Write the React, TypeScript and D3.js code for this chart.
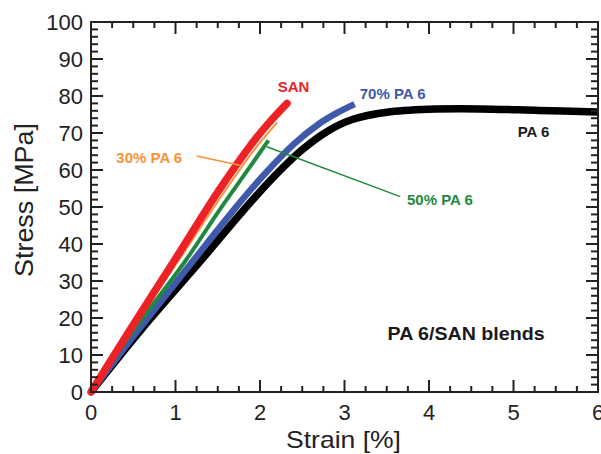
import * as d3 from "d3";

// strain [%], stress [MPa]
const strainTicks = [0, 1, 2, 3, 4, 5, 6];
const stressTicks = [0, 10, 20, 30, 40, 50, 60, 70, 80, 90, 100];

const pa6 = [[0, 0], [0.6, 17], [1.3, 35.5], [1.8, 49], [2.2, 59], [2.5, 65.5], [2.8, 70.5], [3.1, 73.7], [3.5, 75.6], [4, 76.4], [4.6, 76.5], [5.3, 76.1], [6, 75.7]];
const pa70 = [[0, 0], [0.5, 15], [1.2, 35.2], [1.7, 49.5], [2.05, 58.8], [2.4, 67], [2.7, 72.5], [2.9, 75.3], [3.12, 77.8]];
const pa50 = [[0, 0], [0.5, 16.5], [1.11, 35.2], [1.5, 48.5], [1.87, 60.5], [2.1, 68]];
const pa30 = [[0, 0], [0.5, 17.5], [1.05, 36], [1.5, 51.5], [1.9, 64.5], [2.2, 72.8]];
const san = [[0, 0], [0.5, 18.2], [1.0, 36], [1.5, 54], [1.9, 67], [2.1, 72.6], [2.32, 78]];

const series = [
  { name: "PA 6", data: pa6, color: "#000000", width: 7.5, cap: "butt" },
  { name: "70% PA 6", data: pa70, color: "#3f5aab", width: 6.5, cap: "butt" },
  { name: "50% PA 6", data: pa50, color: "#1f8a3f", width: 4, cap: "butt" },
  { name: "30% PA 6", data: pa30, color: "#f7923a", width: 2, cap: "butt" },
  { name: "SAN", data: san, color: "#ec2227", width: 7.5, cap: "round" },
];

const labels = [
  { text: "SAN", x: 2.21, y: 81.2, color: "#ec2227" },
  { text: "70% PA 6", x: 3.18, y: 79.2, color: "#3f5aab" },
  { text: "PA 6", x: 5.05, y: 69, color: "#1a1a1a" },
  { text: "30% PA 6", x: 0.3, y: 61.9, color: "#f7923a" },
  { text: "50% PA 6", x: 3.74, y: 50.5, color: "#1f8a3f" },
];

const leaders = [
  { from: [1.25, 63.8], to: [1.76, 61.3], color: "#f7923a" },
  { from: [2.08, 66.3], to: [3.66, 52.8], color: "#1f8a3f" },
];

const W = 601;
const H = 454;
const margin = { top: 22, right: 3, bottom: 62, left: 91 };
const font = "'Liberation Sans', Arial, sans-serif";

export default function App() {
  const x = d3.scaleLinear().domain([0, 6]).range([margin.left, W - margin.right]);
  const y = d3.scaleLinear().domain([0, 100]).range([H - margin.bottom, margin.top]);

  const line = d3
    .line<number[]>()
    .x((d) => x(d[0]))
    .y((d) => y(d[1]))
    .curve(d3.curveCatmullRom.alpha(0.5));

  const xMinor = d3.range(0, 6.001, 0.25);
  const yMinor = d3.range(0, 100.1, 2);
  const x0 = x(0), x1 = x(6), y0 = y(0), y1 = y(100);
  const axisColor = "#222";

  return (
    <svg width={W} height={H} style={{ position: "absolute", left: 0, top: 0, background: "#fff" }}>
      {/* curves */}
      {series.map((s) => (
        <path key={s.name} d={line(s.data) || ""} fill="none" stroke={s.color}
          strokeWidth={s.width} strokeLinecap={s.cap as any} strokeLinejoin="round" />
      ))}

      {/* leader lines */}
      {leaders.map((l, i) => (
        <line key={i} x1={x(l.from[0])} y1={y(l.from[1])} x2={x(l.to[0])} y2={y(l.to[1])}
          stroke={l.color} strokeWidth={1.5} />
      ))}

      {/* frame + ticks */}
      <g stroke={axisColor} strokeWidth={2}>
        <rect x={x0} y={y1} width={x1 - x0} height={y0 - y1} fill="none" />
        {xMinor.map((v) => {
          const major = Math.abs(v - Math.round(v)) < 1e-6;
          const len = major ? 12 : 6;
          return (
            <g key={"x" + v}>
              <line x1={x(v)} x2={x(v)} y1={y0} y2={y0 - len} />
              <line x1={x(v)} x2={x(v)} y1={y1} y2={y1 + len} />
            </g>
          );
        })}
        {yMinor.map((v) => {
          const major = v % 10 === 0;
          const len = major ? 12 : 7;
          return (
            <g key={"y" + v}>
              <line x1={x0} x2={x0 + len} y1={y(v)} y2={y(v)} />
              <line x1={x1} x2={x1 - len} y1={y(v)} y2={y(v)} />
            </g>
          );
        })}
      </g>

      {/* tick labels */}
      <g fontFamily={font} fontSize={22} fill={axisColor}>
        {strainTicks.map((v) => (
          <text key={v} x={x(v)} y={y0 + 28} textAnchor="middle">{v}</text>
        ))}
        {stressTicks.map((v) => (
          <text key={v} x={x0 - 8} y={y(v)} dy="0.36em" textAnchor="end">{v}</text>
        ))}
      </g>

      {/* axis titles */}
      <text x={(x0 + x1) / 2 - 1} y={448} textAnchor="middle" fontFamily={font} fontSize={24}
        fill={axisColor} textLength={115} lengthAdjust="spacingAndGlyphs">Strain [%]</text>
      <text transform={`translate(33,${(y0 + y1) / 2 - 7}) rotate(-90)`} textAnchor="middle"
        fontFamily={font} fontSize={25} fill={axisColor} textLength={154}
        lengthAdjust="spacingAndGlyphs">Stress [MPa]</text>

      {/* curve labels */}
      <g fontFamily={font} fontSize={15} fontWeight="bold">
        {labels.map((l) => (
          <text key={l.text} x={x(l.x)} y={y(l.y)} fill={l.color}>{l.text}</text>
        ))}
      </g>
      <text x={x(3.51)} y={y(14.05)} fontFamily={font} fontSize={18.5} fontWeight="bold"
        fill="#1a1a1a" textLength={157} lengthAdjust="spacingAndGlyphs">PA 6/SAN blends</text>
    </svg>
  );
}
